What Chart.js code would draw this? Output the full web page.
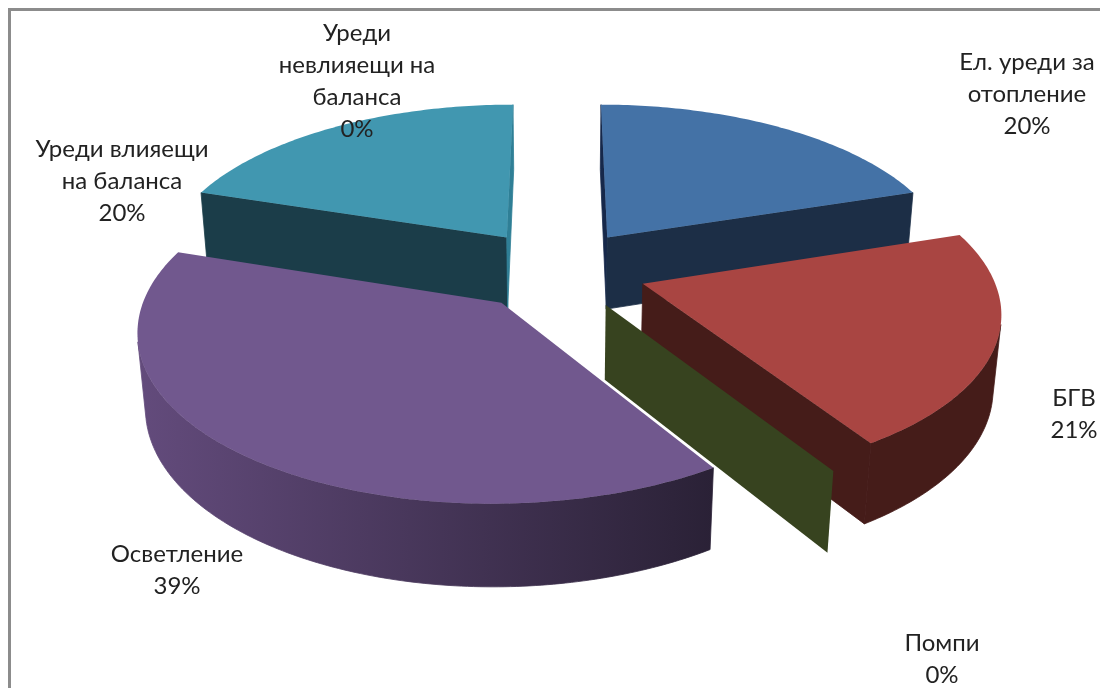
<!DOCTYPE html>
<html>
<head>
<meta charset="utf-8">
<script src="https://cdn.jsdelivr.net/npm/chart.js@4/dist/chart.umd.min.js"></script>
<style>
  html, body { margin: 0; background: #fff; overflow: hidden; }
  #frame { position: absolute; left: 8px; top: 8px; width: 1100px; height: 690px; border-left: 3px solid #8c8c8c; border-top: 3px solid #8c8c8c; }
  #pie { position: absolute; left: 0; top: 0; }
</style>
</head>
<body>
<canvas id="pie" width="1100" height="688"></canvas>
<div id="frame"></div>
<script>
// ===== Data =====
const categories = ['Ел. уреди за отопление', 'БГВ', 'Помпи', 'Осветление', 'Уреди влияещи на баланса', 'Уреди невлияещи на баланса'];
const values = [20, 21, 0, 39, 20, 0];
const labelLines = [
  ['Ел. уреди за', 'отопление'],
  ['БГВ'],
  ['Помпи'],
  ['Осветление'],
  ['Уреди влияещи', 'на баланса'],
  ['Уреди', 'невлияещи на', 'баланса']
];

// ===== Styles =====
const topColors = ['#4472a6', '#a94542', '#37431f', '#71588e', '#4197b0', '#4197b0'];
const rimColors = ['#1c2e46', '#451c19', '#37431f', ['#634b7c', '#2a2136'], '#1b3d49', '#1b3d49'];
const startWallColors = ['#16284a', '#451c19', '#37431f', '#2a2136', '#1b3d49', '#2f7f96'];
const endWallColors = ['#1c2e46', '#451c19', '#37431f', '#2a2136', '#2f7f96', '#2f7f96'];
const sliceOffsets = [88, 90, 88, 88, 88, 88];
const labelX = [1027, 1074, 942, 177, 122, 357];
const labelY = [70, 406, 651, 562, 157, 41];
const LINE_HEIGHT = 32;

// Camera used to tilt the flat pie: depth falloff, tilt sin/cos, extrusion height
const PERSP = 0.00042;
const TILT_SIN = 0.4625;
const TILT_COS = 0.886;
const Z_PERSP = 0.000219;
const DEPTH = 84;

function project(arc, X, Y, Z) {
  const w = 1 + PERSP * Y - Z_PERSP * Z;
  return { x: arc.x + X / w, y: arc.y - (TILT_SIN * Y + TILT_COS * Z) / w };
}

// Pie-plane position of a point on the slice, with the explode offset applied
function rimPoint(arc, angle, radius) {
  const mid = (arc.startAngle + arc.endAngle) / 2;
  const off = arc.options.offset;
  return {
    X: off * Math.cos(mid) + radius * Math.cos(angle),
    Y: -(off * Math.sin(mid) + radius * Math.sin(angle))
  };
}

// Walls get a hairline stroke in their own colour so no seam shows between faces
function fillPoly(ctx, pts, fill, seal) {
  ctx.beginPath();
  pts.forEach((p, i) => (i ? ctx.lineTo(p.x, p.y) : ctx.moveTo(p.x, p.y)));
  ctx.closePath();
  ctx.fillStyle = fill;
  ctx.fill();
  if (seal) {
    ctx.strokeStyle = fill;
    ctx.lineWidth = 0.8;
    ctx.stroke();
  }
}

function signedArea(pts) {
  let a = 0;
  pts.forEach((p, i) => {
    const q = pts[(i + 1) % pts.length];
    a += p.x * q.y - q.x * p.y;
  });
  return a / 2;
}

function radialWall(arc, angle) {
  const c = rimPoint(arc, 0, 0);
  const e = rimPoint(arc, angle, arc.outerRadius);
  return [project(arc, c.X, c.Y, 0), project(arc, e.X, e.Y, 0), project(arc, e.X, e.Y, -DEPTH), project(arc, c.X, c.Y, -DEPTH)];
}

function drawRim(ctx, arc, fill) {
  const steps = Math.max(1, Math.ceil((arc.endAngle - arc.startAngle) / 0.015));
  const tops = [], bottoms = [];
  for (let i = 0; i < steps; i++) {
    const a0 = arc.startAngle + (arc.endAngle - arc.startAngle) * i / steps;
    const a1 = arc.startAngle + (arc.endAngle - arc.startAngle) * (i + 1) / steps;
    const p0 = rimPoint(arc, a0, arc.outerRadius), p1 = rimPoint(arc, a1, arc.outerRadius);
    const quad = [project(arc, p0.X, p0.Y, 0), project(arc, p1.X, p1.Y, 0), project(arc, p1.X, p1.Y, -DEPTH), project(arc, p0.X, p0.Y, -DEPTH)];
    if (signedArea(quad) < 0) {
      if (!tops.length) { tops.push(quad[0]); bottoms.push(quad[3]); }
      tops.push(quad[1]);
      bottoms.push(quad[2]);
    }
  }
  if (!tops.length) return;
  const outline = tops.concat(bottoms.reverse());
  let style = fill;
  if (Array.isArray(fill)) {
    const xs = outline.map(p => p.x);
    style = ctx.createLinearGradient(Math.min(...xs), 0, Math.max(...xs), 0);
    style.addColorStop(0, fill[0]);
    style.addColorStop(1, fill[1]);
  }
  fillPoly(ctx, outline, style, true);
}

function drawSlice(ctx, arc, i) {
  const startQuad = radialWall(arc, arc.startAngle);
  const endQuad = radialWall(arc, arc.endAngle);
  drawRim(ctx, arc, rimColors[i]);

  // Zero-sized slices collapse to a single wall, always shown
  if (arc.startAngle === arc.endAngle) {
    fillPoly(ctx, startQuad, startWallColors[i]);
    return;
  }
  if (signedArea(startQuad) < 0) fillPoly(ctx, startQuad, startWallColors[i], true);
  if (signedArea(endQuad) > 0) fillPoly(ctx, endQuad, endWallColors[i], true);

  const top = [project(arc, rimPoint(arc, 0, 0).X, rimPoint(arc, 0, 0).Y, 0)];
  const steps = Math.ceil((arc.endAngle - arc.startAngle) / 0.015);
  for (let s = 0; s <= steps; s++) {
    const a = arc.startAngle + (arc.endAngle - arc.startAngle) * s / steps;
    const p = rimPoint(arc, a, arc.outerRadius);
    top.push(project(arc, p.X, p.Y, 0));
  }
  fillPoly(ctx, top, arc.options.backgroundColor);
}

const pie3d = {
  id: 'pie3d',
  // Replaces the flat arcs with extruded ones, painted back to front
  beforeDatasetsDraw(chart) {
    const ctx = chart.ctx;
    const arcs = chart.getDatasetMeta(0).data;
    const order = arcs.map((arc, i) => i).sort((a, b) => {
      const depth = arc => rimPoint(arc, (arc.startAngle + arc.endAngle) / 2, arc.outerRadius / 2).Y;
      return depth(arcs[b]) - depth(arcs[a]);
    });
    ctx.save();
    order.forEach(i => drawSlice(ctx, arcs[i], i));
    ctx.restore();
    return false;
  },
  afterDraw(chart) {
    const ctx = chart.ctx;
    ctx.save();
    ctx.font = '24px Lato';
    ctx.fillStyle = '#222';
    ctx.textAlign = 'center';
    ctx.textBaseline = 'alphabetic';
    labelLines.forEach((lines, i) => {
      lines.concat(values[i] + '%').forEach((line, k) => {
        ctx.fillText(line, labelX[i], labelY[i] + k * LINE_HEIGHT);
      });
    });
    ctx.restore();
  }
};

new Chart(document.getElementById('pie'), {
  type: 'pie',
  data: {
    labels: categories,
    datasets: [{
      data: values,
      backgroundColor: topColors,
      borderWidth: 0,
      offset: sliceOffsets
    }]
  },
  options: {
    responsive: false,
    animation: false,
    radius: 348,
    layout: { padding: { left: 14, bottom: 149 } },
    plugins: { legend: { display: false }, tooltip: { enabled: false } }
  },
  plugins: [pie3d]
});
</script>
</body>
</html>
